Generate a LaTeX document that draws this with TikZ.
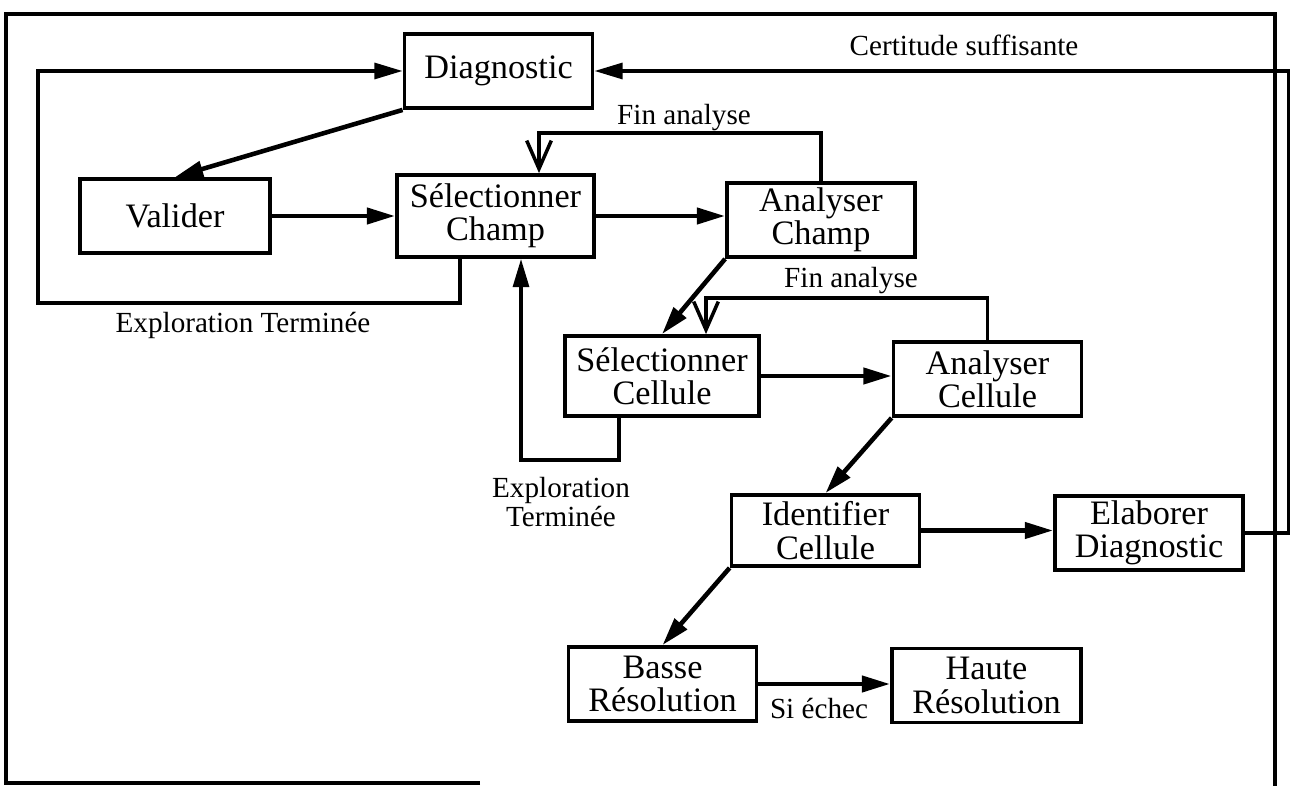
\documentclass[tikz,border=0pt]{standalone}
\usepackage{fontspec}
\setmainfont{Liberation Serif}
\usetikzlibrary{arrows.meta}

\begin{document}
\begin{tikzpicture}[x=0.02cm,y=-0.02cm,
  boite/.style={draw,line width=2.2pt,align=center,inner sep=0pt,minimum width=3.76cm,minimum height=1.48cm,font=\fontsize{19.5}{19}\selectfont},
  etiquette/.style={align=center,inner sep=0pt,font=\fontsize{16.6}{14.5}\selectfont},
  fleche/.style={line width=2.6pt,-{Triangle[length=16pt,width=9pt]}},
  retour/.style={line width=2pt,-{Straight Barb[length=16pt,width=14pt,line width=2pt]}},
  lien/.style={line width=2pt}]
\useasboundingbox (0,0) rectangle (1290,786);
\draw[line width=2pt] (480,783) -- (6,783) -- (6,14) -- (1275,14) -- (1275,786);
\node[boite] (diag) at (498.5,71) {Diagnostic};
\node[boite,minimum width=3.8cm] (valider) at (175,216) {Valider};
\node[boite,minimum width=3.94cm,minimum height=1.64cm] (selchamp) at (495.5,216) {Sélectionner\\Champ};
\node[boite] (anachamp) at (821,220) {Analyser\\Champ};
\node[boite,minimum width=3.88cm,minimum height=1.6cm] (selcell) at (662,376) {Sélectionner\\Cellule};
\node[boite] (anacell) at (987.5,379) {Analyser\\Cellule};
\node[boite,minimum height=1.42cm] (ident) at (825.5,530.5) {Identifier\\Cellule};
\node[boite] (elab) at (1149,533) {Elaborer\\Diagnostic};
\node[boite] (basse) at (662.5,684) {Basse\\Résolution};
\node[boite,minimum width=3.78cm] (haute) at (986.5,685.5) {Haute\\Résolution};
\coordinate (fin1) at (539,133);
\coordinate (fin2) at (706,298);
\coordinate (explo1) at (460,303);
\coordinate (gauche) at (38,303);
\coordinate (explo2) at (619,460);
\coordinate (bas2) at (521,460);
\coordinate (droite) at (1289,71);
\draw[fleche] (diag.south west) -- (valider.north);
\draw[fleche] (valider.east) -- (selchamp.west);
\draw[fleche] (selchamp.east) -- (selchamp.east -| anachamp.west);
\draw[retour] (anachamp.north) |- (fin1) -- (fin1 |- selchamp.north);
\draw[fleche,line width=2pt] (explo1 |- selchamp.south) -- (explo1) -- (gauche) |- (diag.west);
\draw[fleche] (anachamp.south west) -- (selcell.north);
\draw[retour] (anacell.north) |- (fin2) -- (fin2 |- selcell.north);
\draw[fleche] (selcell.east) -- (selcell.east -| anacell.west);
\draw[fleche,line width=2pt] (explo2 |- selcell.south) -- (explo2) -- (bas2) -- (bas2 |- selchamp.south);
\draw[fleche] (anacell.south west) -- (ident.north);
\draw[fleche] (ident.east) -- (ident.east -| elab.west);
\draw[fleche,line width=2pt] (elab.east) -| (droite) -- (diag.east);
\draw[fleche] (ident.south west) -- (basse.north);
\draw[fleche] (basse.east) -- (basse.east -| haute.west);
\node[etiquette] (certitude) at (964,45) {Certitude suffisante};
\node[etiquette] (lfin1) at (684,118) {Fin analyse};
\node[etiquette] (lfin2) at (851,281) {Fin analyse};
\node[etiquette] (lexplo1) at (243,325) {Exploration Terminée};
\node[etiquette] (lexplo2) at (561,502) {Exploration\\Terminée};
\node[etiquette] (lechec) at (819,708) {Si échec};
\end{tikzpicture}
\end{document}
